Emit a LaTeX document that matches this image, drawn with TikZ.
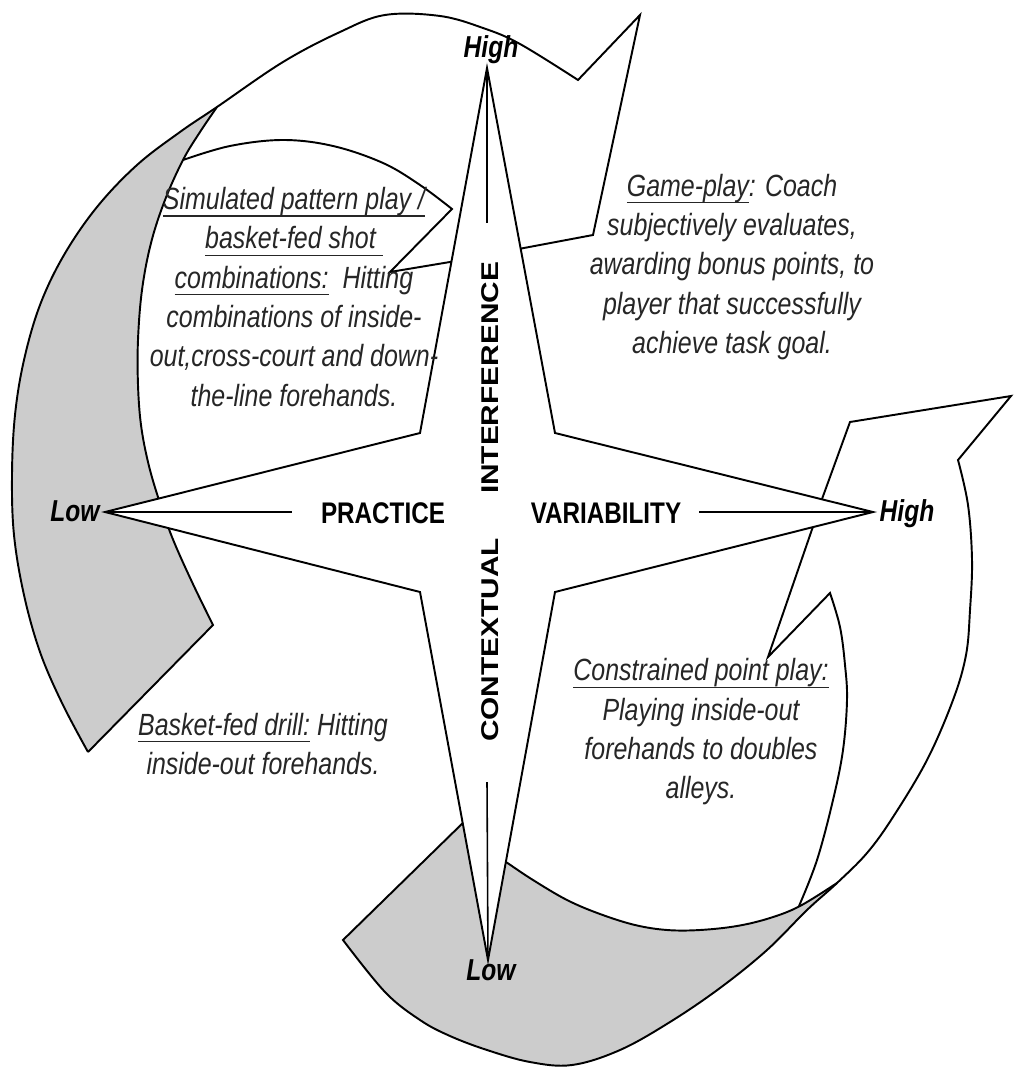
\documentclass[tikz,border=0pt]{standalone}
\usepackage{fontspec}
\setmainfont{Liberation Sans}
\usepackage{graphicx}
\newcommand{\myul}[1]{\setbox0=\hbox{#1}\leavevmode\rlap{\rule[-0.23em]{\wd0}{0.6pt}}\box0\relax}
\begin{document}
\tikzset{
  ol/.style={draw=black, line width=1.1pt, line join=miter},
  grayfill/.style={fill=black!20},
  axisline/.style={draw=black, line width=0.9pt},
  desc/.style={font=\fontsize{14.2pt}{18.2pt}\selectfont\itshape, inner sep=0pt, text=black!85},
  axislbl/.style={font=\fontsize{13.8pt}{16pt}\selectfont\bfseries, inner sep=0pt},
  endlbl/.style={font=\fontsize{14pt}{16pt}\selectfont\bfseries\itshape, inner sep=0pt},
}
\begin{tikzpicture}[x=0.02cm, y=-0.02cm]
\useasboundingbox (0,0) rectangle (1013,1067);
\fill[white] (0,0) rectangle (1013,1067);

% gray back side, left
\fill[grayfill] plot[smooth, tension=0.6] coordinates {(88,752) (62,703) (40,652) (24,595) (14,535) (12,475) (15,415) (24,360) (40,305) (64,255) (97,207) (137,165) (180,132) (217,107)}
  -- plot[smooth, tension=0.6] coordinates {(217,107) (200,132) (183,160) (165,200) (151,243) (142,290) (138,340) (138,385) (141,425) (148,462) (158,497) (172,537) (192,582) (213,625)} -- cycle;

% gray back side, bottom
\fill[grayfill] (463,823) -- plot[smooth, tension=0.6] coordinates {(343,940) (385,992) (420,1020) (450,1036) (487,1050) (530,1062) (572,1065) (620,1050) (670,1022) (720,988) (767,950) (807,910) (837,883)}
  -- plot[smooth, tension=0.6] coordinates {(837,883) (800,906) (770,918) (737,926) (700,930) (667,930) (635,925) (600,914) (567,900) (533,880) (506,862) (494,854)} -- cycle;

% outer arc top-left with arrow head at the top
\draw[ol] plot[smooth, tension=0.6] coordinates {(88,752) (62,703) (40,652) (24,595) (14,535) (12,475) (15,415) (24,360) (40,305) (64,255) (97,207) (137,165) (180,132) (217,107) (283,62) (340,32) (385,15) (440,16) (483,28) (520,44) (578,80)}
  -- (640,15) -- (593,235) -- (508,251);

% inner arc left with its cut end
\draw[ol] (88,752) -- plot[smooth, tension=0.6] coordinates {(213,625) (192,582) (172,537) (158,497) (148,462) (141,425) (138,385) (138,340) (142,290) (151,243) (165,200) (183,160) (200,132) (217,107)};

% upper-left arrow head
\draw[ol] plot[smooth, tension=0.6] coordinates {(183,160) (230,146) (283,140) (333,146) (383,163) (420,185) (452,209)}
  -- (390,272) -- (462,260);

% right arrow head and outer arc right / bottom
\draw[ol] (818,510) -- (850,422) -- (1011,396) -- (958,460)
  -- plot[smooth, tension=0.6] coordinates {(958,460) (968,505) (972,560) (970,610) (966,655) (953,700) (927,760) (893,817) (867,853) (837,883) (807,910) (767,950) (720,988) (670,1022) (620,1050) (572,1065) (530,1062) (487,1050) (450,1036) (420,1020) (385,992) (343,940)}
  -- (470,816);

% inner arc bottom
\draw[ol] plot[smooth, tension=0.6] coordinates {(494,854) (506,862) (533,880) (567,900) (600,914) (635,925) (667,930) (700,930) (737,926) (770,918) (800,906) (837,883)};

% lower-right arrow head
\draw[ol] (818,512) -- (768,657) -- (830,593)
  -- plot[smooth, tension=0.6] coordinates {(830,593) (840,627) (845,665) (847,700) (843,750) (833,800) (817,860) (799,906)};

% star
\draw[ol, fill=white] (487,68) -- (555,433) -- (873,512) -- (555,592) -- (488,960) -- (420,592) -- (105,512) -- (420,433) -- cycle;
\draw[axisline] (487,68) -- (487,223);
\draw[axisline] (487,782) -- (488,960);
\draw[axisline] (105,512) -- (292,512);
\draw[axisline] (699,512) -- (873,512);

% axis labels
\node[axislbl] (practice) at (383,513) {\scalebox{1}[1.23]{PRACTICE}};
\node[axislbl] (variability) at (606,513) {\scalebox{1}[1.23]{VARIABILITY}};
\node[axislbl] (interference) at (490,378) {\rotatebox{90}{\scalebox{1.23}[1]{INTERFERENCE}}};
\node[axislbl] (contextual) at (490,640) {\rotatebox{90}{\scalebox{1.23}[1]{CONTEXTUAL}}};

\node[endlbl] (hightop) at (491,50) {\scalebox{1}[1.23]{High}};
\node[endlbl] (lowleft) at (75,511) {\scalebox{1}[1.23]{Low}};
\node[endlbl] (highright) at (907,514) {\scalebox{1}[1.23]{High}};
\node[endlbl] (lowbottom) at (491,970) {\scalebox{1}[1.23]{Low}};

% descriptions
\node[desc] (sim) at (294,300) {\scalebox{1}[1.23]{\begin{tabular}{@{}c@{}}
\myul{Simulated pattern play /}\\
\myul{basket-fed shot\ }\\
\myul{combinations:}\ \ Hitting\\
combinations of inside-\\
out,cross-court and down-\\
the-line forehands.
\end{tabular}}};

\node[desc] (game) at (732,267) {\scalebox{1}[1.23]{\begin{tabular}{@{}c@{}}
\myul{Game-play}: Coach\\
subjectively evaluates,\\
awarding bonus points, to\\
player that successfully\\
achieve task goal.
\end{tabular}}};

\node[desc] (constrained) at (701,732) {\scalebox{1}[1.23]{\begin{tabular}{@{}c@{}}
\myul{Constrained point play:}\\
Playing inside-out\\
forehands to doubles\\
alleys.
\end{tabular}}};

\node[desc] (basket) at (263,747) {\scalebox{1}[1.23]{\begin{tabular}{@{}c@{}}
\myul{Basket-fed drill:} Hitting\\
inside-out forehands.
\end{tabular}}};
\end{tikzpicture}
\end{document}
